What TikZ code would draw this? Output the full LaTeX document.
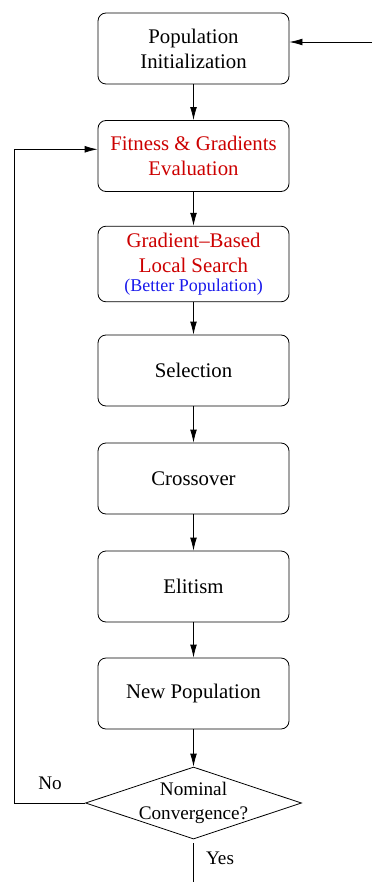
\documentclass[tikz,border=0pt]{standalone}
\usepackage{fontspec}
\setmainfont{Liberation Serif}
\usetikzlibrary{arrows.meta,shapes.geometric}
\definecolor{stepred}{RGB}{204,0,0}
\definecolor{noteblue}{RGB}{25,25,235}

\begin{document}
\begin{tikzpicture}[x=0.5pt, y=-0.5pt, >={Latex[length=6.5pt,width=3.4pt]},
    stagebox/.style={draw, rounded corners=4pt, minimum width=95.5pt, minimum height=35.5pt,
        align=center, font=\fontsize{10.4}{12.5}\selectfont},
    decision/.style={draw, diamond, minimum width=108pt, minimum height=36pt, inner sep=0pt},
    smalltext/.style={font=\fontsize{9.6}{12}\selectfont, align=center}]
    \useasboundingbox (0,0) rectangle (372,882);

    % Stages of the loop
    \node[stagebox] (init) at (193.5,48.5) {Population\\Initialization};
    \node[stagebox, text=stepred] (fit) at (193.5,156) {Fitness \& Gradients\\Evaluation};
    \node[stagebox] (local) at (193.5,264) {\textcolor{stepred}{Gradient--Based}\\\textcolor{stepred}{Local Search}\\[-3pt]%
        {\fontsize{9}{9}\selectfont\textcolor{noteblue}{(Better Population)}}};
    \node[stagebox] (sel) at (193.5,370.5) {Selection};
    \node[stagebox] (cross) at (193.5,478.5) {Crossover};
    \node[stagebox] (elite) at (193.5,586.5) {Elitism};
    \node[stagebox] (newpop) at (193.5,693.5) {New Population};

    % Convergence test
    \node[decision, label={[smalltext]center:Nominal\\Convergence?}] (conv) at (193.5,803) {};

    % Main flow
    \foreach \a/\b in {init/fit, fit/local, local/sel, sel/cross, cross/elite, elite/newpop, newpop/conv}
        \draw[->] (\a) -- (\b);

    % Loop back (No)
    \coordinate (back) at (14,803);
    \draw[->] (conv.west) -- (back) |- (fit.176);
    \node[smalltext] (no) at (50,783) {No};

    % Entry
    \coordinate (entry) at (372,42);
    \draw[->] (entry) -- (init.east |- entry);

    % Exit (Yes)
    \coordinate (exit) at (193.5,882);
    \draw ([yshift=-2pt]conv.south) -- (exit);
    \node[smalltext] (yes) at (220,858) {Yes};
\end{tikzpicture}
\end{document}
